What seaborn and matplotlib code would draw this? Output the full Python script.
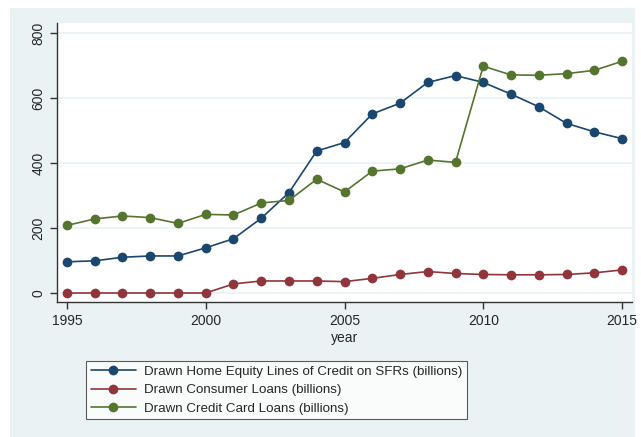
import matplotlib
matplotlib.use("Agg")
import matplotlib.pyplot as plt
from matplotlib.patches import Rectangle
import seaborn as sns
import pandas as pd

years = list(range(1995, 2016))
heloc = [96, 99, 110, 114, 114, 139, 167, 230, 309, 437, 463, 551, 584, 648, 669,
         648, 612, 573, 522, 496, 475]
consumer = [0, 0, 0, 0, 0, 0, 28, 37, 37, 37, 35, 45, 57, 66, 60,
            57, 56, 56, 57, 62, 71]
credit_card = [208, 228, 237, 232, 214, 242, 240, 277, 285, 350, 311, 375, 382, 409, 402,
               698, 671, 670, 675, 685, 713]

series_names = ["Drawn Home Equity Lines of Credit on SFRs (billions)",
                "Drawn Consumer Loans (billions)",
                "Drawn Credit Card Loans (billions)"]
colors = ["#1A476F", "#90353B", "#55752F"]

df = pd.DataFrame({"year": years * 3,
                   "value": heloc + consumer + credit_card,
                   "series": [s for s in series_names for _ in years]})

sns.set_style("white")
plt.rcParams['font.family'] = ['Liberation Sans', 'DejaVu Sans']

bg = "#EAF2F3"
fig = plt.figure(figsize=(6.41, 4.37), dpi=100, facecolor="white")
# light stata-like backdrop
fig.patches.append(Rectangle((10 / 641, 0), 625 / 641, 1 - 8 / 437,
                             transform=fig.transFigure, facecolor=bg,
                             edgecolor="none", zorder=-10))

ax = fig.add_axes([57 / 641, 1 - 302 / 437, 575 / 641, 279 / 437])
ax.set_facecolor("white")

sns.lineplot(data=df, x="year", y="value", hue="series", hue_order=series_names,
             palette=colors, marker="o", markersize=7, markeredgewidth=0,
             linewidth=1.2, ax=ax)

ax.set_xlim(1994.64, 2015.36)
ax.set_ylim(-27.7, 830.8)
ax.set_xticks([1995, 2000, 2005, 2010, 2015])
ax.set_yticks([0, 200, 400, 600, 800])
ax.set_yticklabels(["0", "200", "400", "600", "800"], rotation=90, va="center")
ax.yaxis.grid(True, color=bg, linewidth=1.2)
ax.set_axisbelow(True)
for s in ["top", "right"]:
    ax.spines[s].set_visible(False)
for s in ["left", "bottom"]:
    ax.spines[s].set_color("#333333")
    ax.spines[s].set_linewidth(1.0)
ax.tick_params(axis="both", which="both", direction="out", length=5, width=1,
               color="#333333", labelsize=10, left=True, bottom=True)
ax.set_xlabel("year", fontsize=10, labelpad=2)
ax.set_ylabel("")

handles, labels = ax.get_legend_handles_labels()
ax.get_legend().remove()
leg = fig.legend(handles, labels, loc="upper left",
                 bbox_to_anchor=(86 / 641, 1 - 361 / 437),
                 frameon=True, fancybox=False, fontsize=9.6, handlelength=3.4,
                 borderpad=0.35, labelspacing=0.45, handletextpad=0.6,
                 borderaxespad=0)
leg.get_frame().set_edgecolor("#333333")
leg.get_frame().set_facecolor("white")
leg.get_frame().set_linewidth(0.8)

fig.savefig("out.png", dpi=100, facecolor="white")
